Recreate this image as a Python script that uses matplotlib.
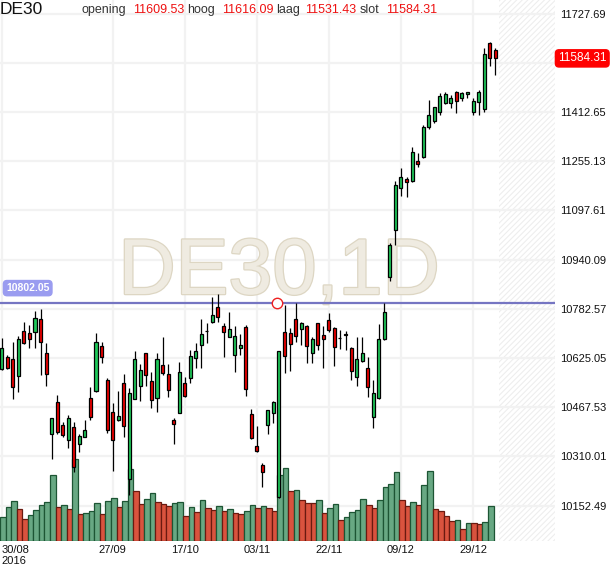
import matplotlib
matplotlib.use('Agg')
import matplotlib.pyplot as plt
import matplotlib.patheffects as pe
from matplotlib.transforms import blended_transform_factory
import numpy as np

plt.rcParams['font.family'] = ['Liberation Sans', 'DejaVu Sans']
plt.rcParams['hatch.linewidth'] = 0.8

# ---------------- data ----------------
symbol = 'DE30'
timeframe = '1D'
header_labels = ['opening', 'hoog', 'laag', 'slot']
header_values = ['11609.53', '11616.09', '11531.43', '11584.31']

opens = [10588.8, 10627.2, 10620.8, 10568.5, 10710.5, 10705.1, 10707.2, 10748.9, 10640.0, 10380.7,
         10483.1, 10409.5, 10361.5, 10404.2, 10348.7, 10373.2, 10495.9, 10519.4, 10663.5, 10553.6,
         10453.3, 10425.5, 10544.0, 10238.7, 10493.8, 10535.4, 10640.0, 10551.4, 10495.9, 10602.7,
         10572.8, 10425.5, 10450.1, 10544.0, 10560.0, 10626.1, 10665.6, 10711.0, 10741.4, 10787.3,
         10727.5, 10691.2, 10633.6, 10658.2, 10724.3, 10444.7, 10343.3, 10282.5, 10409.5, 10447.9,
         10181.1, 10709.4, 10704.0, 10748.9, 10719.0, 10726.5, 10640.0, 10736.1, 10698.7, 10745.7,
         10720.1, 10688.5, 10701.9, 10656.0, 10563.2, 10614.4, 10592.0, 10435.1, 10495.9, 10684.8,
         10883.3, 11034.9, 11168.3, 11198.2, 11192.8, 11255.8, 11267.5, 11365.7, 11383.9, 11413.7,
         11442.6, 11442.6, 11475.6, 11456.4, 11469.2, 11412.7, 11443.6, 11423.3, 11632.5, 11609.53]

highs = [10688.0, 10634.7, 10675.2, 10695.5, 10739.3, 10730.7, 10776.6, 10780.9, 10674.2, 10434.0,
         10506.6, 10421.2, 10443.7, 10421.2, 10381.8, 10426.6, 10533.3, 10706.2, 10677.4, 10560.0,
         10482.1, 10518.4, 10573.8, 10530.1, 10647.5, 10605.9, 10642.1, 10580.3, 10640.0, 10691.2,
         10604.8, 10433.0, 10613.3, 10565.3, 10649.6, 10672.0, 10748.9, 10738.2, 10819.3, 10828.9,
         10738.2, 10771.3, 10727.5, 10700.8, 10730.7, 10461.8, 10407.4, 10290.0, 10458.6, 10488.5,
         10647.5, 10793.7, 10720.1, 10802.05, 10741.4, 10730.7, 10691.2, 10738.2, 10727.5, 10768.1,
         10725.4, 10714.7, 10712.6, 10661.4, 10691.2, 10691.2, 10627.2, 10554.6, 10732.9, 10800.1,
         10992.2, 11192.8, 11232.3, 11205.6, 11299.5, 11280.3, 11371.0, 11451.1, 11429.7, 11474.6,
         11477.8, 11467.1, 11479.9, 11477.8, 11476.7, 11456.4, 11483.1, 11618.6, 11635.7, 11616.09]

lows = [10586.7, 10588.8, 10492.7, 10515.2, 10669.9, 10656.0, 10656.0, 10569.6, 10535.4, 10300.6,
        10381.8, 10373.2, 10335.9, 10261.2, 10325.2, 10371.1, 10426.6, 10517.3, 10610.1, 10383.9,
        10264.4, 10423.4, 10373.2, 10186.5, 10492.7, 10488.5, 10535.4, 10463.9, 10453.3, 10570.6,
        10501.3, 10348.7, 10447.9, 10501.3, 10544.0, 10592.0, 10592.0, 10672.0, 10738.2, 10741.4,
        10629.3, 10691.2, 10581.3, 10633.6, 10504.5, 10366.8, 10324.1, 10211.0, 10381.8, 10415.9,
        10175.8, 10576.0, 10584.5, 10675.2, 10665.6, 10610.1, 10608.0, 10650.7, 10594.1, 10707.2,
        10600.5, 10652.8, 10650.7, 10554.6, 10535.4, 10612.3, 10501.3, 10402.0, 10492.7, 10682.7,
        10872.7, 10986.9, 11143.7, 11141.6, 11189.6, 11235.5, 11266.5, 11357.2, 11376.4, 11403.1,
        11438.3, 11426.5, 11408.4, 11449.0, 11456.4, 11403.1, 11403.1, 11413.7, 11559.9, 11531.43]

closes = [10656.0, 10592.0, 10533.3, 10684.8, 10672.0, 10687.0, 10752.1, 10675.2, 10572.8, 10431.9,
          10387.1, 10378.6, 10431.9, 10276.1, 10375.4, 10393.5, 10435.1, 10675.2, 10627.2, 10393.5,
          10361.5, 10438.3, 10407.4, 10512.0, 10620.8, 10585.6, 10569.6, 10490.6, 10622.9, 10576.0,
          10522.6, 10412.7, 10579.2, 10503.4, 10630.4, 10647.5, 10701.9, 10711.0, 10762.7, 10757.4,
          10709.4, 10716.9, 10695.5, 10665.6, 10524.8, 10370.0, 10326.3, 10259.0, 10457.5, 10483.1,
          10647.5, 10630.4, 10668.8, 10694.4, 10736.1, 10663.5, 10684.8, 10665.6, 10684.8, 10713.7,
          10661.4, 10688.5, 10698.7, 10582.4, 10621.9, 10640.0, 10533.3, 10512.0, 10684.8, 10773.4,
          10986.9, 11179.0, 11203.5, 11189.6, 11283.5, 11245.1, 11365.7, 11402.0, 11427.6, 11462.8,
          11469.2, 11456.4, 11449.0, 11472.4, 11475.6, 11449.0, 11477.8, 11597.3, 11584.5, 11584.31]

volumes = [23.7, 33.7, 39.7, 31.7, 21.7, 25.7, 30.7, 35.7, 38.7, 65.7,
           33.7, 35.7, 31.7, 82.0, 27.5, 28.0, 29.7, 37.7, 26.7, 39.7,
           42.7, 33.7, 39.7, 71.7, 49.7, 36.7, 41.7, 47.7, 38.7, 36.7,
           34.7, 37.7, 38.7, 24.7, 33.7, 28.7, 40.7, 32.7, 30.7, 34.7,
           29.7, 31.7, 27.7, 26.7, 29.7, 35.7, 32.7, 34.7, 32.7, 29.7,
           65.7, 72.7, 50.5, 50.9, 40.7, 37.7, 37.7, 40.7, 27.7, 32.7,
           36.7, 20.7, 23.7, 28.7, 30.7, 41.7, 35.7, 32.7, 40.7, 53.7,
           56.7, 68.7, 40.7, 34.7, 38.7, 35.7, 56.0, 69.7, 31.7, 29.7,
           25.2, 19.7, 20.7, 11.7, 17.7, 17.7, 16.7, 18.7, 34.7]

date_tick_index = [0, 20, 33, 46, 59, 72, 85]
date_tick_labels = ['30/08\n2016', '27/09', '17/10', '03/11', '22/11', '09/12', '29/12']

price_ticks = [10152.49, 10310.01, 10467.53, 10625.05, 10782.57, 10940.09,
               11097.61, 11255.13, 11412.65, 11570.17, 11727.69]

level_price = 10802.05
level_anchor_index = 49.6
last_price = 11584.31

# ---------------- layout ----------------
W, H = 610, 568
fig = plt.figure(figsize=(W / 100, H / 100), dpi=100)
rect = [0, 27 / H, 555 / W, 541 / H]
x_lo, x_hi = -0.31, 99.78
y_lo, y_hi = 10039.1, 11771.2
future_start = 89.68

GREEN = '#1ec95a'
RED = '#ee0000'
GRID = '#f2f2f2'

# background axes: grid, hatch, watermark
axbg = fig.add_axes(rect, zorder=0)
axbg.set_xlim(x_lo, x_hi)
axbg.set_ylim(y_lo, y_hi)
axbg.set_xticks(date_tick_index)
axbg.set_yticks(price_ticks)
axbg.grid(True, color=GRID, lw=1.6)
axbg.tick_params(length=0, labelleft=False, labelbottom=False)
for s in axbg.spines.values():
    s.set_visible(False)
axbg.axvspan(future_start, x_hi, facecolor='none', edgecolor='#eeeeee',
             hatch='//////', linewidth=0)
axbg.text(279 / W, 1 - 294 / H, f'{symbol},{timeframe}', transform=fig.transFigure,
          fontsize=57, color='#efebe1', ha='center', va='baseline',
          path_effects=[pe.withStroke(linewidth=1.8, foreground='#ddd6c3')])

# volume axes
axv = fig.add_axes(rect, zorder=1, sharex=axbg)
axv.patch.set_visible(False)
axv.set_ylim(0, 541)
axv.axis('off')
vol = np.array(volumes)
vol_up = np.concatenate([[True], vol[1:] > vol[:-1]])
vcol = np.where(vol_up, '#68a883', '#d9533e')
vedge = np.where(vol_up, '#1d5534', '#6a1a10')
axv.bar(np.arange(len(vol)) + 0.2, vol, width=1.0, color=vcol, edgecolor=vedge,
        linewidth=0.9, align='center')

# price axes
ax = fig.add_axes(rect, zorder=2, sharex=axbg)
ax.patch.set_visible(False)
ax.set_xlim(x_lo, x_hi)
ax.set_ylim(y_lo, y_hi)
for s in ax.spines.values():
    s.set_visible(False)

o = np.array(opens); h = np.array(highs); l = np.array(lows); c = np.array(closes)
idx = np.arange(len(o))
up = c >= o
ax.axhline(level_price, color='#7575c2', lw=1.6, zorder=1)
ax.vlines(idx, l, h, color='black', lw=0.9, zorder=2)
ax.bar(idx, np.abs(c - o), bottom=np.minimum(o, c), width=0.55,
       color=np.where(up, GREEN, RED), edgecolor='black', linewidth=0.9, zorder=3)
ax.plot([level_anchor_index], [level_price], marker='o', ms=7.5, mfc='white',
        mec='#ee2020', mew=1.0, zorder=4)

# axis ticks
ax.yaxis.tick_right()
ax.set_yticks(price_ticks)
ax.set_yticklabels(['' if abs(p - 11570.17) < 0.01 else f'{p:.2f}' for p in price_ticks])
ax.tick_params(axis='y', length=0, pad=4, labelsize=8, labelcolor='#111111')
ax.set_xticks(date_tick_index)
ax.set_xticklabels(date_tick_labels)
ax.tick_params(axis='x', length=0, pad=3, labelsize=8, labelcolor='#111111')
xl = ax.get_xticklabels()
xl[0].set_ha('left')
xl[0].set_multialignment('left')
for t in xl:
    t.set_linespacing(1.05)

# price tags
bt = blended_transform_factory(fig.transFigure, ax.transData)
ax.text(558 / W, last_price, f'{last_price:.2f}', transform=bt, fontsize=8.5,
        color='white', ha='left', va='center', clip_on=False, zorder=10,
        bbox=dict(boxstyle='round,pad=0.22,rounding_size=0.3', fc='#ff0000', ec='#ff0000'))
ax.annotate(f'{level_price:.2f}', xy=(6 / W, level_price), xycoords=bt,
            xytext=(0, 10.5), textcoords='offset points', fontsize=7.5,
            fontweight='bold', color='white', ha='left', va='center', zorder=10,
            bbox=dict(boxstyle='round,pad=0.25,rounding_size=0.35', fc='#9a9cf0', ec='#9a9cf0'))

# header
fig.text(0 / W, 1 - 14.5 / H, symbol, fontsize=12.5, color='#111111', va='baseline')
hx_labels = [82, 187, 276, 360]
hx_values = [133, 222, 305, 386]
for lab, val, xl_, xv_ in zip(header_labels, header_values, hx_labels, hx_values):
    fig.text(xl_ / W, 1 - 13 / H, lab, fontsize=9, color='#333333', va='baseline')
    fig.text(xv_ / W, 1 - 13 / H, val, fontsize=9, color='#ee1111', va='baseline')

fig.savefig('out.png', dpi=100)
